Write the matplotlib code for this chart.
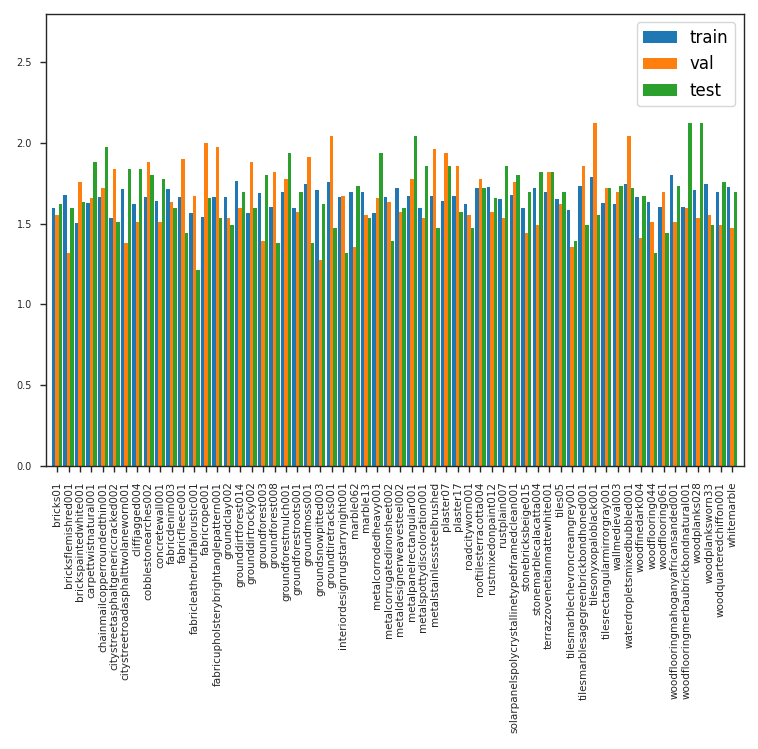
import matplotlib
matplotlib.use("Agg")
import matplotlib.pyplot as plt
import numpy as np

categories = [
    "bricks01", "bricksflemishred001", "brickspaintedwhite001", "carpettwistnatural001",
    "chainmailcopperroundedthin001", "citystreetasphaltgenericcracked002",
    "citystreetroadasphalttwolaneworn001", "cliffjagged004", "cobblestonearches002",
    "concretewall001", "fabricdenim003", "fabricfleece001", "fabricleatherbuffalorustic001",
    "fabricrope001", "fabricupholsterybrightanglepattern001", "groundclay002",
    "grounddirtforest014", "grounddirtrocky002", "groundforest003", "groundforest008",
    "groundforestmulch001", "groundforestroots001", "groundmoss001", "groundsnowpitted003",
    "groundtiretracks001", "interiordesignrugstarrynight001", "marble062", "marble13",
    "metalcorrodedheavy001", "metalcorrugatedironsheet002", "metaldesignerweavesteel002",
    "metalpanelrectangular001", "metalspottydiscoloration001", "metalstainlesssteelbrushed",
    "plaster07", "plaster17", "roadcityworn001", "rooftilesterracotta004",
    "rustmixedonpaint012", "rustplain007", "solarpanelspolycrystallinetypebframedclean001",
    "stonebricksbeige015", "stonemarblecalacatta004", "terrazzovenetianmattewhite001",
    "tiles05", "tilesmarblechevroncreamgrey001", "tilesmarblesagegreenbrickbondhoned001",
    "tilesonyxopaloblack001", "tilesrectangularmirrorgray001", "wallmedieval003",
    "waterdropletsmixedbubbled001", "woodfinedark004", "woodflooring044", "woodflooring061",
    "woodflooringmahoganyafricansanded001", "woodflooringmerbaubrickbondnatural001",
    "woodplanks028", "woodplanksworn33", "woodquarteredchiffon001", "whitemarble",
]

train = [
    1.595, 1.680, 1.508, 1.632, 1.669, 1.533, 1.713, 1.620, 1.663, 1.644,
    1.713, 1.669, 1.570, 1.545, 1.663, 1.663, 1.768, 1.564, 1.688, 1.607,
    1.694, 1.595, 1.744, 1.707, 1.762, 1.669, 1.700, 1.700, 1.564, 1.663,
    1.719, 1.675, 1.600, 1.675, 1.644, 1.675, 1.625, 1.719, 1.731, 1.651,
    1.680, 1.595, 1.719, 1.700, 1.651, 1.583, 1.737, 1.793, 1.632, 1.620,
    1.749, 1.669, 1.638, 1.607, 1.800, 1.607, 1.707, 1.744, 1.694, 1.725,
]
val = [
    1.557, 1.316, 1.756, 1.657, 1.719, 1.837, 1.378, 1.514, 1.880, 1.514,
    1.638, 1.899, 1.675, 1.998, 1.979, 1.539, 1.595, 1.880, 1.396, 1.818,
    1.780, 1.576, 1.917, 1.278, 2.041, 1.675, 1.359, 1.557, 1.657, 1.638,
    1.576, 1.780, 1.539, 1.961, 1.936, 1.861, 1.557, 1.780, 1.576, 1.539,
    1.756, 1.440, 1.495, 1.818, 1.620, 1.359, 1.861, 2.122, 1.719, 1.700,
    2.041, 1.415, 1.514, 1.700, 1.514, 1.595, 1.539, 1.557, 1.495, 1.477,
]
test = [
    1.620, 1.595, 1.638, 1.880, 1.979, 1.514, 1.837, 1.837, 1.800, 1.780,
    1.595, 1.440, 1.216, 1.657, 1.539, 1.495, 1.700, 1.595, 1.800, 1.378,
    1.936, 1.700, 1.378, 1.620, 1.477, 1.316, 1.737, 1.539, 1.936, 1.396,
    1.595, 2.041, 1.861, 1.477, 1.861, 1.576, 1.477, 1.719, 1.657, 1.861,
    1.800, 1.700, 1.818, 1.818, 1.700, 1.396, 1.495, 1.557, 1.719, 1.737,
    1.719, 1.675, 1.316, 1.440, 1.737, 2.122, 2.122, 1.495, 1.756, 1.700,
]

series = [("train", train, "#1f77b4"), ("val", val, "#ff7f0e"), ("test", test, "#2ca02c")]

fig = plt.figure(figsize=(7.58, 7.49), dpi=100)
ax = fig.add_axes([0.0603, 0.378, 0.9207, 0.6033])

x = np.arange(len(categories))
width = 0.3
for i, (name, vals, color) in enumerate(series):
    ax.bar(x + (i - 1) * width, vals, width, label=name, color=color)

ax.set_xlim(-1, len(categories))
ax.set_ylim(0, 2.8)
ax.set_yticks([0.0, 0.5, 1.0, 1.5, 2.0, 2.5])
ax.set_xticks(x)
ax.set_xticklabels(categories, rotation=90)
ax.tick_params(axis="both", length=4.3, width=1.0, colors="#262626")
ax.tick_params(axis="x", labelsize=7.5, pad=7)
ax.tick_params(axis="y", labelsize=7, pad=5.5)
for s in ax.spines.values():
    s.set_color("#262626")
    s.set_linewidth(1.0)

ax.legend(loc="upper right", fontsize=12)

fig.savefig("out.png", dpi=100)
